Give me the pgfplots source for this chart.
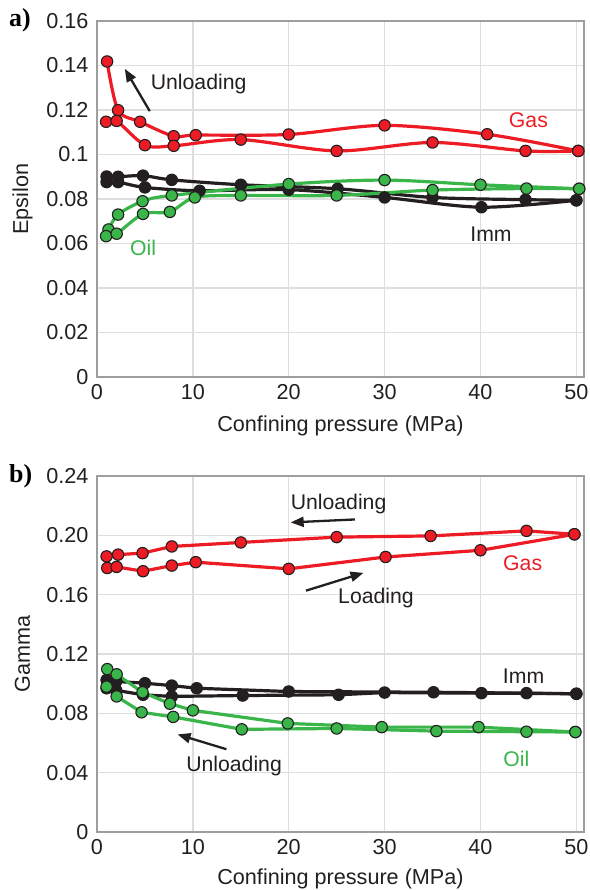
\documentclass[border=0pt]{standalone}
\usepackage{fontspec}
\setmainfont{Liberation Sans}
\newfontfamily\serifbold{Liberation Serif}
\usepackage{pgfplots}
\pgfplotsset{compat=1.18}
\usetikzlibrary{arrows.meta}
\definecolor{cred}{HTML}{ED1C24}
\definecolor{cgreen}{HTML}{39B54A}
\definecolor{cblack}{HTML}{231F20}
\tikzset{
  ann/.style={font=\fontsize{21.3}{25}\selectfont},
  arr/.style={draw=cblack, line width=2.3bp, -{Triangle[length=13bp,width=10bp]}},
}
\pgfplotsset{
  mystyle/.style={
    scale only axis, width=487bp, height=356bp,
    xmin=0, xmax=50.8,
    xtick={0,10,20,30,40,50},
    grid=major, major grid style={draw=black!13, line width=1.3bp},
    axis line style={draw=black!38, line width=1.3bp},
    tick style={draw=none},
    ticklabel style={font=\fontsize{21.7}{25}\selectfont, text=cblack},
    yticklabel style={xshift=-5bp},
    xticklabel style={yshift=-4bp},
    label style={font=\fontsize{21.7}{25}\selectfont, text=cblack},
    /pgf/number format/assume math mode=true,
    xlabel={Confining pressure (MPa)},
    ylabel style={at={(axis description cs:-0.153,0.5)}, anchor=center},
    clip=false,
  },
  ser/.style={line width=3.2bp, color=#1, mark=*, mark size=5.7bp,
    mark options={fill=#1, draw=cblack, line width=1.1bp}},
}
\begin{document}
\begin{tikzpicture}
\useasboundingbox (0,0) rectangle (590bp,890bp);
% ---------------- panel a ----------------
\begin{axis}[mystyle, at={(97bp,513bp)}, anchor=south west,
  xlabel style={at={(axis description cs:0.5,0)}, anchor=center, yshift=-49bp},
  ymin=0, ymax=0.16,
  ytick={0,0.02,0.04,0.06,0.08,0.1,0.12,0.14,0.16},
  yticklabels={0,0.02,0.04,0.06,0.08,0.1,0.12,0.14,0.16},
  ylabel={Epsilon}]
% Imm
\addplot[ser=cblack, smooth] coordinates {(1,0.0901)(2.2,0.0900)(4.8,0.0905)(7.8,0.0886)(15,0.0864)(25.1,0.0846)(35,0.0807)(44.7,0.0797)(50,0.0794)};
\addplot[ser=cblack, smooth] coordinates {(1,0.0876)(2.2,0.0876)(5,0.0852)(10.7,0.0837)(20,0.0842)(30,0.0807)(40.1,0.0763)(50,0.0794)};
% Oil
\addplot[ser=cgreen, smooth] coordinates {(1.2,0.0663)(2.2,0.0730)(4.75,0.0790)(7.8,0.0816)(20,0.0867)(30,0.0885)(40,0.0864)(50.3,0.0846)};
\addplot[ser=cgreen, smooth] coordinates {(0.95,0.0633)(2.05,0.0644)(4.8,0.0733)(7.6,0.0742)(10.2,0.0807)(15,0.0816)(25,0.0816)(35,0.0840)(44.8,0.0847)(50.3,0.0846)};
% Gas
\addplot[ser=cred, smooth] coordinates {(50.2,0.1016)(40.7,0.1091)(30,0.1131)(20,0.1090)(10.3,0.1087)(8,0.1082)(4.5,0.1147)(2.2,0.1199)(1.05,0.1418)};
\addplot[ser=cred, smooth] coordinates {(0.95,0.1147)(2.05,0.1151)(5,0.1042)(8,0.1039)(15,0.1067)(25,0.1016)(35,0.1054)(44.7,0.1016)(50.2,0.1016)};
% annotations
\node[ann, text=cblack] at (axis cs:10.6,0.1315) {Unloading};
\draw[arr] (axis cs:5.5,0.1195) -- (axis cs:2.9,0.1385);
\node[ann, text=cred] at (axis cs:45,0.1155) {Gas};
\node[ann, text=cblack] at (axis cs:41.1,0.0640) {Imm};
\node[ann, text=cgreen] at (axis cs:4.8,0.0578) {Oil};
\end{axis}
% ---------------- panel b ----------------
\begin{axis}[mystyle, at={(97bp,58bp)}, anchor=south west,
  xlabel style={at={(axis description cs:0.5,0)}, anchor=center, yshift=-46.5bp},
  ymin=0, ymax=0.24,
  ytick={0,0.04,0.08,0.12,0.16,0.2,0.24},
  yticklabels={0,0.04,0.08,0.12,0.16,0.20,0.24},
  ylabel={Gamma}]
% Imm
\addplot[ser=cblack] coordinates {(50,0.0932)(44.8,0.0936)(35.1,0.0942)(20,0.0947)(10.4,0.0969)(7.8,0.0987)(5,0.1003)(2,0.1015)(1,0.1025)};
\addplot[ser=cblack] coordinates {(1,0.0969)(2,0.0955)(4.8,0.0925)(7.8,0.0914)(15.2,0.0920)(25.2,0.0925)(30,0.0940)(40.1,0.0936)(50,0.0932)};
% Oil
\addplot[ser=cgreen] coordinates {(1.07,0.1098)(2.05,0.1063)(4.75,0.0942)(7.6,0.0865)(10,0.0820)(19.9,0.0732)(29.7,0.0707)(39.8,0.0707)(49.9,0.0674)};
\addplot[ser=cgreen] coordinates {(1,0.0980)(2.05,0.0914)(4.65,0.0807)(7.95,0.0776)(15.1,0.0692)(25,0.0698)(35.4,0.0680)(44.8,0.0676)(49.9,0.0674)};
% Gas
\addplot[ser=cred] coordinates {(49.8,0.2007)(44.8,0.2030)(34.8,0.1996)(25,0.1988)(15,0.1952)(7.8,0.1925)(4.75,0.1880)(2.2,0.1870)(1,0.1858)};
\addplot[ser=cred] coordinates {(1.07,0.1780)(2.05,0.1787)(4.8,0.1758)(7.8,0.1796)(10.3,0.1819)(20,0.1774)(30.1,0.1854)(40,0.1899)(49.8,0.2007)};
% annotations
\node[ann, text=cblack] at (axis cs:25.2,0.2214) {Unloading};
\draw[arr] (axis cs:26.9,0.2107) -- (axis cs:20.2,0.2087);
\node[ann, text=cblack] at (axis cs:29.1,0.1575) {Loading};
\draw[arr] (axis cs:21.8,0.1627) -- (axis cs:27.8,0.1747);
\node[ann, text=cred] at (axis cs:44.4,0.1814) {Gas};
\node[ann, text=cblack] at (axis cs:44.5,0.1047) {Imm};
\node[ann, text=cgreen] at (axis cs:43.75,0.0495) {Oil};
\node[ann, text=cblack] at (axis cs:14.3,0.0445) {Unloading};
\draw[arr] (axis cs:13.5,0.0558) -- (axis cs:8.4,0.0658);
\end{axis}
\node[anchor=base west, inner sep=0pt, font=\fontsize{26}{30}\serifbold\bfseries] at (9bp,863bp) {a)};
\node[anchor=base west, inner sep=0pt, font=\fontsize{26}{30}\serifbold\bfseries] at (9bp,407bp) {b)};
\end{tikzpicture}
\end{document}
